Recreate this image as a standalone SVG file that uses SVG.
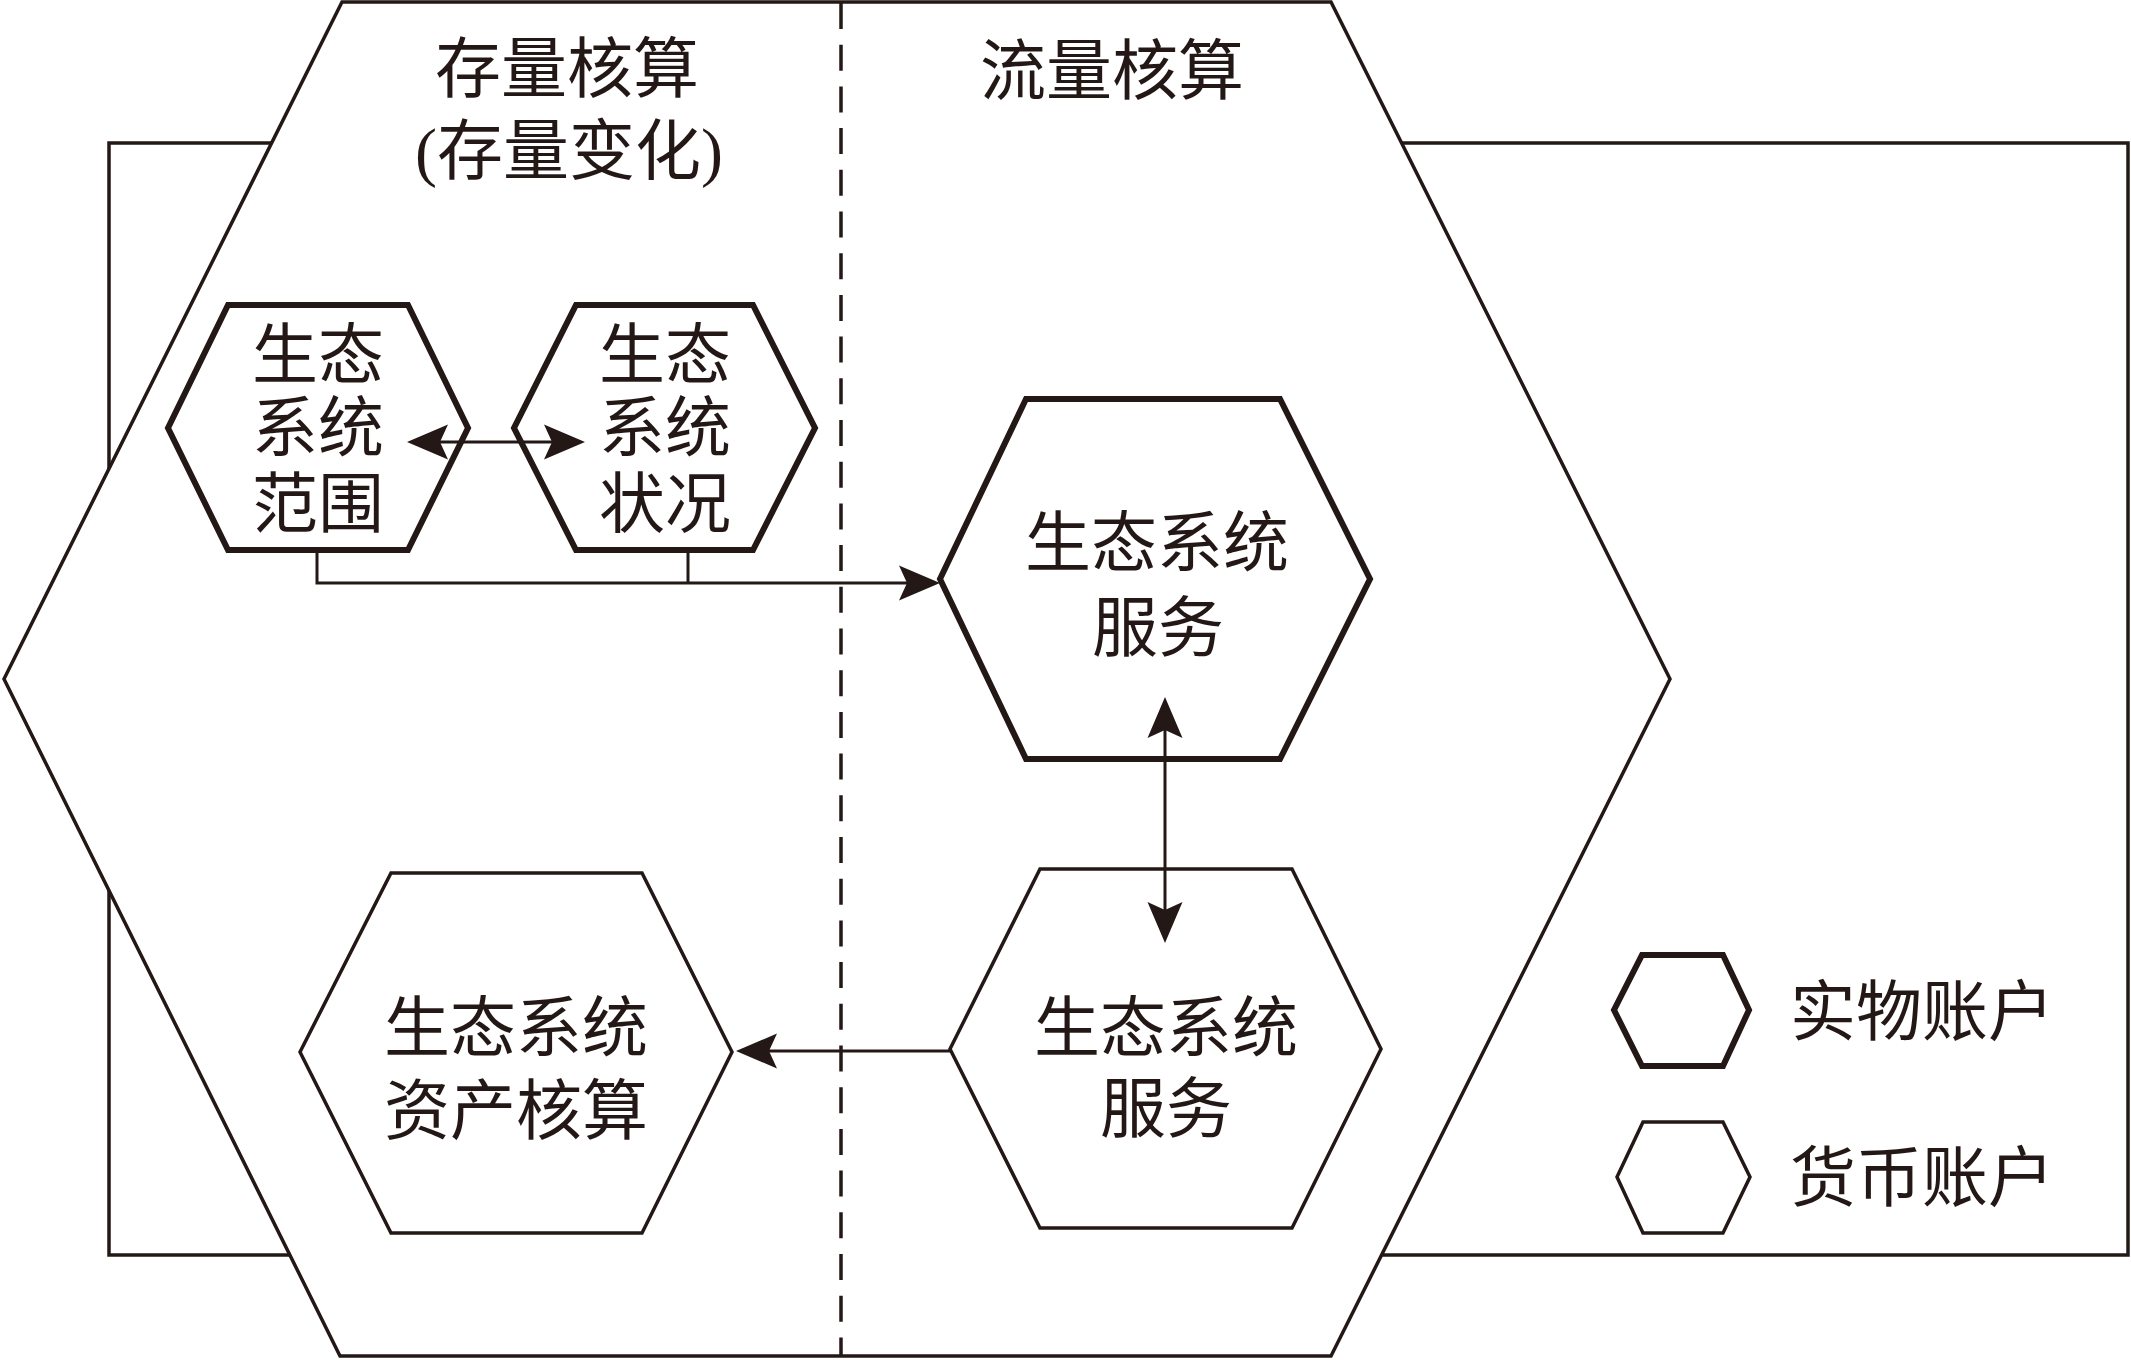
<svg xmlns="http://www.w3.org/2000/svg" width="2131" height="1360" viewBox="0 0 2131 1360">
<style>
  .bg { fill: #ffffff; }
  .thin { fill: #ffffff; stroke: #231815; stroke-width: 3.5; stroke-linejoin: miter; }
  .thick { fill: #ffffff; stroke: #231815; stroke-width: 6; stroke-linejoin: miter; }
  .frame { fill: none; stroke: #231815; stroke-width: 3.5; }
  .divider { fill: none; stroke: #231815; stroke-width: 3.5; stroke-dasharray: 26 15.7; }
  .conn { fill: none; stroke: #231815; stroke-width: 3; }
  .lbl { font-family: "Liberation Serif", "Noto Sans CJK SC", serif; font-size: 66px; fill: #231815; text-anchor: middle; }
  .leg { font-family: "Liberation Serif", "Noto Sans CJK SC", serif; font-size: 66px; fill: #231815; text-anchor: start; }
</style>
<defs>
  <marker id="arrow" markerUnits="userSpaceOnUse" viewBox="-10 -20 46 40" markerWidth="46" markerHeight="40" refX="0" refY="0" orient="auto-start-reverse">
    <path d="M33,0 L-8,-17.5 L0,0 L-8,17.5 Z" fill="#231815"/>
  </marker>
</defs>
<rect class="bg" x="0" y="0" width="2131" height="1360"/>

<g id="frame">
  <rect class="frame" x="109" y="143" width="2019" height="1112"/>
</g>

<g id="outer-hexagon">
  <polygon class="thin" points="342,2 1331,2 1670,679 1331,1356 340,1356 4,679"/>
</g>

<g id="divider">
  <line class="divider" x1="841" y1="3" x2="841" y2="1355"/>
</g>

<g id="title-stock">
  <text class="lbl" x="567" y="92">存量核算</text>
  <text class="lbl" x="569" y="174">(存量变化)</text>
</g>

<g id="title-flow">
  <text class="lbl" x="1112" y="94">流量核算</text>
</g>

<g id="node-extent">
  <polygon class="thick" points="228,305 408,305 468,428 408,550 228,550 168,428"/>
  <text class="lbl" x="318" y="378">生态</text>
  <text class="lbl" x="318" y="451">系统</text>
  <text class="lbl" x="318" y="527">范围</text>
</g>

<g id="node-condition">
  <polygon class="thick" points="576,305 753,305 815,428 753,550 576,550 514,428"/>
  <text class="lbl" x="665" y="378">生态</text>
  <text class="lbl" x="665" y="451">系统</text>
  <text class="lbl" x="665" y="527">状况</text>
</g>

<g id="node-service-physical">
  <polygon class="thick" points="1026,399 1280,399 1370,579 1280,759 1026,759 940,579"/>
  <text class="lbl" x="1157" y="566">生态系统</text>
  <text class="lbl" x="1158" y="651">服务</text>
</g>

<g id="node-service-monetary">
  <polygon class="thin" points="1040,869 1292,869 1381,1049 1292,1228 1040,1228 950,1049"/>
  <text class="lbl" x="1166" y="1051">生态系统</text>
  <text class="lbl" x="1166" y="1132">服务</text>
</g>

<g id="node-asset">
  <polygon class="thin" points="391,873 642,873 732,1052 642,1233 391,1233 300,1052"/>
  <text class="lbl" x="516" y="1051">生态系统</text>
  <text class="lbl" x="516" y="1134">资产核算</text>
</g>

<g id="legend">
  <polygon class="thick" points="1642,955 1723,955 1749,1010 1723,1066 1642,1066 1614,1010"/>
  <text class="leg" x="1790" y="1035">实物账户</text>
  <polygon class="thin" points="1643,1122 1723,1122 1750,1177 1723,1233 1643,1233 1617,1177"/>
  <text class="leg" x="1790" y="1201">货币账户</text>
</g>

<g id="connectors">
  <line class="conn" x1="440" y1="442" x2="552" y2="442" marker-start="url(#arrow)" marker-end="url(#arrow)"/>
  <path class="conn" d="M317,550 V583 H907" marker-end="url(#arrow)"/>
  <path class="conn" d="M688,550 V583"/>
  <line class="conn" x1="1165" y1="730" x2="1165" y2="910" marker-start="url(#arrow)" marker-end="url(#arrow)"/>
  <line class="conn" x1="950" y1="1051" x2="769" y2="1051" marker-end="url(#arrow)"/>
</g>
</svg>
